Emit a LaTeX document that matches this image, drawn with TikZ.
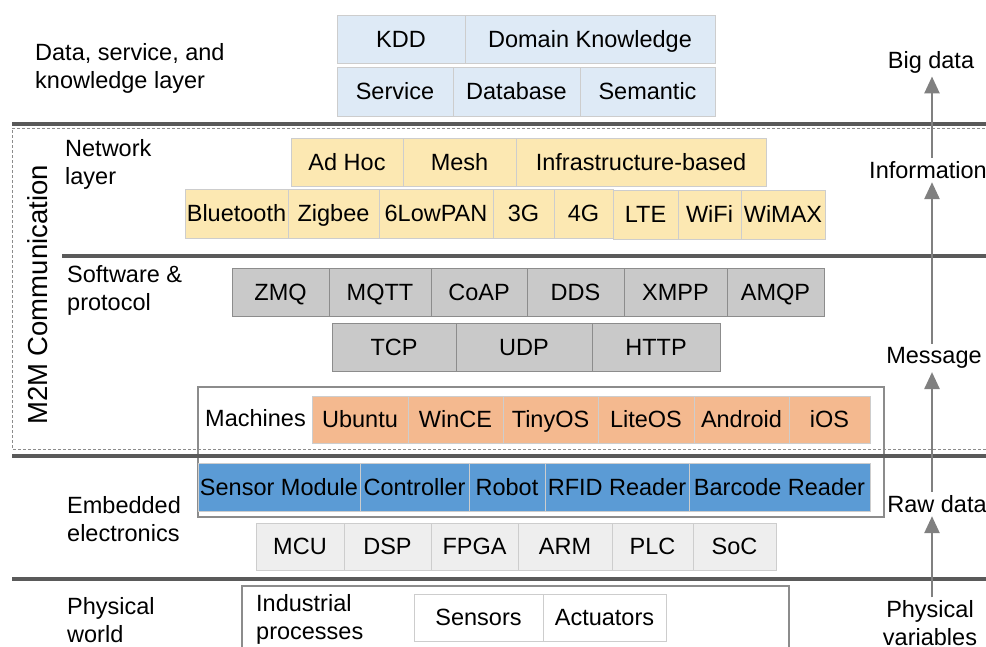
\documentclass[tikz,border=0pt]{standalone}
\usepackage{fontspec}
\setmainfont{Liberation Sans}
\usetikzlibrary{arrows.meta}
\definecolor{sepc}{RGB}{90,90,90}
\definecolor{arrc}{RGB}{128,128,128}
\definecolor{lblue}{RGB}{222,234,246}
\definecolor{lyel}{RGB}{252,232,178}
\definecolor{lgray}{RGB}{201,201,201}
\definecolor{lorange}{RGB}{244,185,143}
\definecolor{mblue}{RGB}{91,155,213}
\definecolor{vlgray}{RGB}{238,238,238}
\definecolor{cellb}{RGB}{205,205,205}
\definecolor{darkb}{RGB}{140,140,140}
\newcommand{\cell}[7]{\node[#6, minimum width=#3pt-#2pt, minimum height=#5pt-#4pt] (#1) at ({(#2+#3)/2},{(#4+#5)/2}) {#7};}
\tikzset{
  base/.style={draw=cellb, line width=0.9pt, inner sep=0pt, text height=16.8pt, text depth=0pt},
  bluec/.style={base, fill=lblue},
  yelc/.style={base, fill=lyel},
  grayc/.style={base, fill=lgray, draw=darkb},
  orc/.style={base, fill=lorange},
  mbc/.style={base, fill=mblue, draw=cellb},
  mcuc/.style={base, fill=vlgray},
  whc/.style={base, fill=white},
  sep/.style={draw=sepc, line width=3.5pt},
  lbl/.style={anchor=west, align=left, inner sep=0pt},
  rl/.style={align=center},
  arr/.style={draw=arrc, line width=2.6pt, -{Triangle[width=15pt,length=17pt]}},
}
\begin{document}
\begin{tikzpicture}[x=1pt, y=-1pt, font=\fontsize{23.5}{28}\selectfont]
\useasboundingbox (0,0) rectangle (986,646);
% outer boxes
\draw[draw=darkb, line width=1.2pt] (198,387) rectangle (884,517);
\draw[draw=darkb, line width=1.2pt] (242,586) rectangle (789,660);
% dashed M2M region
\draw[draw=darkb, line width=0.8pt, dash pattern=on 3pt off 2pt] (995,128) -- (12,128) -- (12,449) -- (995,449);
% separators
\draw[sep] (12,124) -- (990,124);
\draw[sep] (62,256) -- (990,256);
\draw[sep] (12,456) -- (990,456);
\draw[sep] (12,579) -- (990,579);
% left labels
\node[lbl] (l1) at (35,68.5) {Data, service, and\\knowledge layer};
\node[lbl] (l2) at (65,164) {Network\\layer};
\node[lbl] (l3) at (67,290.5) {Software \&\\protocol};
\node[lbl] (l4) at (67,519) {Embedded\\electronics};
\node[lbl] (l5) at (67,620) {Physical\\world};
\node[lbl] (l6) at (256,619.5) {Industrial\\processes};
\node[rotate=90, font=\fontsize{27.5}{33}\selectfont, inner sep=0pt] (m2m) at (38,295) {M2M Communication};
\node[lbl, text height=16.8pt, text depth=0pt] (mach) at (205,418) {Machines};
% data layer
\cell{kdd}{337}{465}{15}{63}{bluec}{KDD}
\cell{dk}{465}{715}{15}{63}{bluec}{Domain Knowledge}
\cell{svc}{337}{453}{67}{116}{bluec}{Service}
\cell{db}{453}{580}{67}{116}{bluec}{Database}
\cell{sem}{580}{715}{67}{116}{bluec}{Semantic}
% network layer
\cell{adhoc}{291}{403}{138}{186}{yelc}{Ad Hoc}
\cell{mesh}{403}{516}{138}{186}{yelc}{Mesh}
\cell{infra}{516}{766}{138}{186}{yelc}{Infrastructure-based}
\cell{bt}{185}{288}{189}{238}{yelc}{Bluetooth}
\cell{zig}{288}{379}{189}{238}{yelc}{Zigbee}
\cell{lowpan}{379}{493}{189}{238}{yelc}{6LowPAN}
\cell{tg}{493}{554}{189}{238}{yelc}{3G}
\cell{fg}{554}{613}{189}{238}{yelc}{4G}
\cell{lte}{613}{678}{190}{239}{yelc}{LTE}
\cell{wifi}{678}{741}{190}{239}{yelc}{WiFi}
\cell{wimax}{741}{825}{190}{239}{yelc}{WiMAX}
% software & protocol
\cell{zmq}{232}{329}{268}{316}{grayc}{ZMQ}
\cell{mqtt}{329}{431}{268}{316}{grayc}{MQTT}
\cell{coap}{431}{527}{268}{316}{grayc}{CoAP}
\cell{dds}{527}{624}{268}{316}{grayc}{DDS}
\cell{xmpp}{624}{727}{268}{316}{grayc}{XMPP}
\cell{amqp}{727}{824}{268}{316}{grayc}{AMQP}
\cell{tcp}{332}{456}{323}{371}{grayc}{TCP}
\cell{udp}{456}{592}{323}{371}{grayc}{UDP}
\cell{http}{592}{720}{323}{371}{grayc}{HTTP}
% machines
\cell{ubuntu}{312}{408}{396}{443}{orc}{Ubuntu}
\cell{wince}{408}{503}{396}{443}{orc}{WinCE}
\cell{tinyos}{503}{598}{396}{443}{orc}{TinyOS}
\cell{liteos}{598}{694}{396}{443}{orc}{LiteOS}
\cell{android}{694}{789}{396}{443}{orc}{Android}
\cell{ios}{789}{870}{396}{443}{orc}{iOS}
% embedded
\cell{sm}{198}{360}{463}{511}{mbc}{Sensor Module}
\cell{ctrl}{360}{469}{463}{511}{mbc}{Controller}
\cell{robot}{469}{545}{463}{511}{mbc}{Robot}
\cell{rfid}{545}{689}{463}{511}{mbc}{RFID Reader}
\cell{barcode}{689}{870}{463}{511}{mbc}{Barcode Reader}
\cell{mcu}{256}{344}{523}{570}{mcuc}{MCU}
\cell{dsp}{344}{431}{523}{570}{mcuc}{DSP}
\cell{fpga}{431}{518}{523}{570}{mcuc}{FPGA}
\cell{arm}{518}{612}{523}{570}{mcuc}{ARM}
\cell{plc}{612}{693}{523}{570}{mcuc}{PLC}
\cell{soc}{693}{776}{523}{570}{mcuc}{SoC}
% physical
\cell{sensors}{414}{543}{594}{641}{whc}{Sensors}
\cell{act}{543}{666}{594}{641}{whc}{Actuators}
% right column
\coordinate (ax) at (932,0);
\node[rl] (bigdata) at (931,62) {Big data};
\node[rl] (info) at (928,170) {Information};
\node[rl] (msg) at (934,358) {Message};
\node[rl] (raw) at (937,504) {Raw data};
\node[rl] (phys) at (930,623.5) {Physical\\variables};
\draw[arr] (ax |- phys.north) -- (ax |- raw.south);
\draw[arr] (ax |- raw.north) -- (ax |- msg.south);
\draw[arr] (ax |- msg.north) -- (ax |- info.south);
\draw[arr] (ax |- info.north) -- (ax |- bigdata.south);
\end{tikzpicture}
\end{document}
